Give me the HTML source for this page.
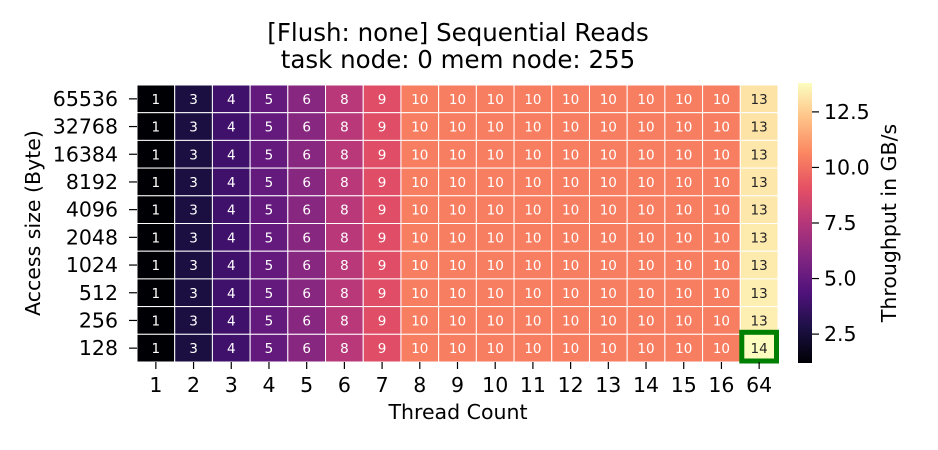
<!DOCTYPE html>
<html><head><meta charset="utf-8"><style>
body{margin:0;background:#fff;}
svg{display:block;font-family:"DejaVu Sans","Liberation Sans",sans-serif;}
</style></head><body>
<svg id="chart" width="938" height="450">
<defs><linearGradient id="cbg" x1="0" y1="1" x2="0" y2="0">
<stop offset="0" stop-color="#000004"/><stop offset="0.125" stop-color="#1c1044"/><stop offset="0.25" stop-color="#4f127b"/><stop offset="0.375" stop-color="#812581"/><stop offset="0.5" stop-color="#b5367a"/><stop offset="0.625" stop-color="#e55064"/><stop offset="0.75" stop-color="#fb8761"/><stop offset="0.875" stop-color="#fec287"/><stop offset="1" stop-color="#fcfdbf"/>
</linearGradient></defs>
<text x="458" y="41" text-anchor="middle" font-size="24.5">[Flush: none] Sequential Reads</text>
<text x="458" y="68" text-anchor="middle" font-size="24.5">task node: 0 mem node: 255</text>
<g id="cells"></g>
<g id="xt"></g><g id="yt"></g>
<text x="458" y="419" text-anchor="middle" font-size="20.5">Thread Count</text>
<text transform="translate(40,223) rotate(-90)" text-anchor="middle" font-size="20.5">Access size (Byte)</text>
<rect x="798" y="83" width="14" height="280" fill="url(#cbg)"/>
<g id="cbt"></g>
<text transform="translate(896,223) rotate(-90)" text-anchor="middle" font-size="20.5">Throughput in GB/s</text>
</svg>
<script>
const threads=["1","2","3","4","5","6","7","8","9","10","11","12","13","14","15","16","64"];
const sizes=["65536","32768","16384","8192","4096","2048","1024","512","256","128"];
const baseRow=[1.2,2.7,3.9,5.0,6.1,7.6,8.9,10.4,10.4,10.4,10.4,10.4,10.4,10.4,10.4,10.4,13.1];
const lastColVals=[13.1,13.1,13.2,13.2,13.2,13.3,13.3,13.4,13.4,13.9];
const cbTicks=[2.5,5.0,7.5,10.0,12.5];
const vmin=1.2,vmax=13.8;
const stops=["#000004","#1c1044","#4f127b","#812581","#b5367a","#e55064","#fb8761","#fec287","#fcfdbf"];
function hex(h){return [1,3,5].map(i=>parseInt(h.substr(i,2),16));}
function magma(t){t=Math.max(0,Math.min(1,t));const p=t*8,i=Math.min(7,Math.floor(p)),f=p-i;const a=hex(stops[i]),b=hex(stops[i+1]);return "rgb("+a.map((v,k)=>Math.round(v+(b[k]-v)*f)).join(",")+")";}
const X0=137,X1=778,Y0=85,Y1=362;
const cw=(X1-X0)/threads.length,ch=(Y1-Y0)/sizes.length;
const xs=i=>X0+i*cw, ys=j=>Y0+j*ch;
const cbY=v=>363-(v-vmin)/(vmax-vmin)*280;
const NS="http://www.w3.org/2000/svg";
const cells=document.getElementById('cells');
function el(tag,attrs,parent){const e=document.createElementNS(NS,tag);for(const k in attrs)e.setAttribute(k,attrs[k]);parent.appendChild(e);return e;}
sizes.forEach((s,j)=>{threads.forEach((t,i)=>{
 const v=i===threads.length-1?lastColVals[j]:baseRow[i];
 const tn=(v-vmin)/(vmax-vmin);
 const r=el('rect',{x:xs(i),y:ys(j),width:cw,height:ch,fill:magma(tn),stroke:'#fff','stroke-width':1},cells);
 
 
 const tx=el('text',{x:xs(i)+cw/2,y:ys(j)+ch/2+5,'text-anchor':'middle','font-size':13.5,fill:tn>0.8?'#262626':'#fff'},cells);
 tx.textContent=Math.round(v);
 
 
});});
const hl=el('rect',{x:xs(16)+1.5,y:ys(9)-2,width:cw-3,height:ch+1,fill:'none',stroke:'#008000','stroke-width':5},cells);


const xt=document.getElementById('xt');
threads.forEach((t,i)=>{const cx=xs(i)+cw/2;
 el('line',{x1:cx,x2:cx,y1:Y1,y2:Y1+7,stroke:'#000','stroke-width':1.2},xt);
 const tx=el('text',{x:cx,y:392,'text-anchor':'middle','font-size':20.5},xt);tx.textContent=t;
 
 });
const yt=document.getElementById('yt');
sizes.forEach((s,j)=>{const cy=ys(j)+ch/2;
 el('line',{x1:X0-8,x2:X0,y1:cy,y2:cy,stroke:'#000','stroke-width':1.2},yt);
 const tx=el('text',{x:X0-19,y:cy+7,'text-anchor':'end','font-size':20.5},yt);tx.textContent=s;
 
 });
const cbt=document.getElementById('cbt');
cbTicks.forEach(v=>{const y=cbY(v);
 el('line',{x1:812,x2:819,y1:y,y2:y,stroke:'#000','stroke-width':1.2},cbt);
 const tx=el('text',{x:824,y:y+7,'font-size':20.5},cbt);tx.textContent=v.toFixed(1);
 
 });
</script>
</body></html>
